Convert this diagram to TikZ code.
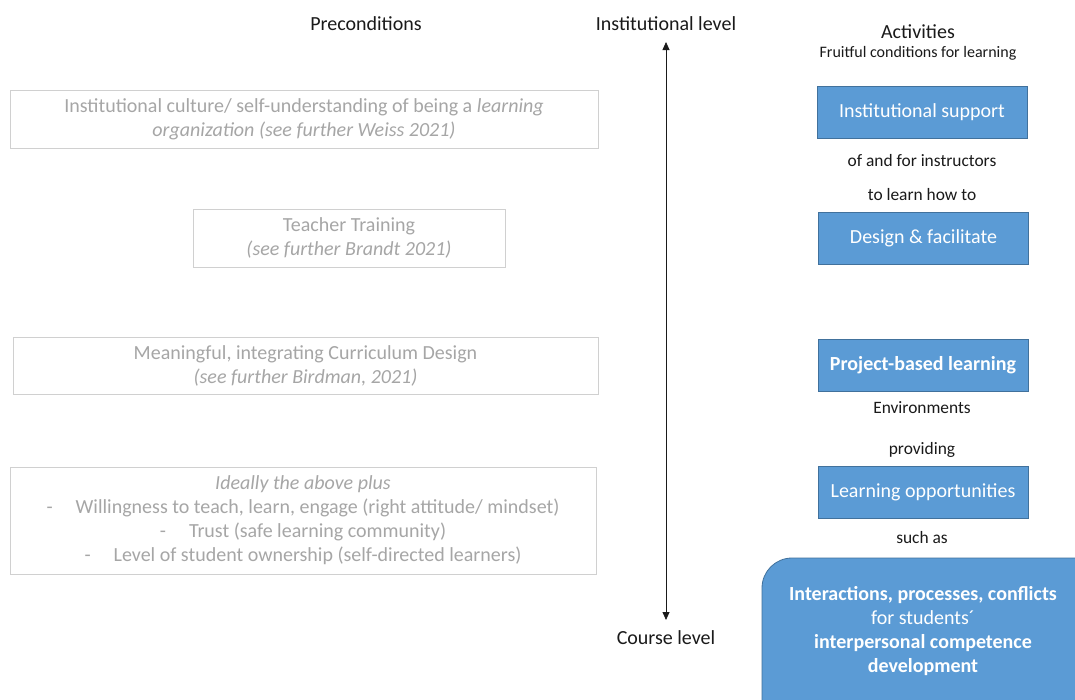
\documentclass[tikz,border=0pt]{standalone}
\usepackage{fontspec}
\setmainfont{Carlito}
\usetikzlibrary{arrows.meta}
\definecolor{precgray}{HTML}{A6A6A6}
\definecolor{precline}{HTML}{D0D0D0}
\definecolor{actblue}{HTML}{5B9BD5}
\definecolor{actline}{HTML}{41719C}
\definecolor{ink}{HTML}{1A1A1A}
\tikzset{
  precbox/.style={draw=precline, line width=1pt, text=precgray, align=center,
    inner sep=0pt, font=\fontsize{20}{24}\selectfont},
  actbox/.style={draw=actline, fill=actblue, line width=0.8pt, text=white, align=center,
    inner sep=0pt, minimum width=210pt, minimum height=52pt, font=\fontsize{20}{24}\selectfont},
  head/.style={text=ink, font=\fontsize{20}{22}\selectfont, inner sep=0pt},
  link/.style={text=ink, font=\fontsize{17.4}{20}\selectfont, inner sep=0pt},
}
\begin{document}
\begin{tikzpicture}[x=1pt, y=-1pt]
\useasboundingbox[fill=white] (0,0) rectangle (1075,699);

% column headings
\node[head] (prec) at (366,24) {Preconditions};
\node[head] (inst) at (666,24) {Institutional level};
\node[head] (course) at (666,638) {Course level};
\node[head] (act) at (918,32) {Activities};
\node[link, font=\fontsize{16}{18}\selectfont] (fruit) at (918,53) {Fruitful conditions for learning};

% level axis
\coordinate (axtop) at (666,42);
\coordinate (axbot) at (666,620);
\draw[line width=0.8pt, draw=ink, {Triangle[width=7pt,length=8pt]}-{Triangle[width=7pt,length=8pt]}] (axtop) -- (axbot);

% preconditions
\node[precbox, minimum width=588pt, minimum height=58pt] (p1) at (304,119)
  {Institutional culture/ self-understanding of being a \textit{learning}\\
   \textit{organization (see further Weiss 2021)}};
\node[precbox, minimum width=312pt, minimum height=58pt] (p2) at (349,238)
  {Teacher Training\\ \textit{(see further Brandt 2021)}};
\node[precbox, minimum width=585pt, minimum height=57pt] (p3) at (305.5,365.5)
  {Meaningful, integrating Curriculum Design\\ \textit{(see further Birdman, 2021)}};
\node[precbox, minimum width=586pt, minimum height=107pt] (p4) at (303,520.5)
  {\textit{Ideally the above plus}\\
   -\hspace{1.15em}Willingness to teach, learn, engage (right attitude/ mindset)\\
   -\hspace{1.15em}Trust (safe learning community)\\
   -\hspace{1.15em}Level of student ownership (self-directed learners)};

% activities
\node[actbox] (a1) at (922,112) {Institutional support};
\node[link] (l1) at (922,161) {of and for instructors};
\node[link] (l2) at (922,195) {to learn how to};
\node[actbox] (a2) at (923.5,238.5) {Design \& facilitate};
\node[actbox] (a3) at (923,365.5) {\textbf{Project-based learning}};
\node[link] (l3) at (922,408) {Environments};
\node[link] (l4) at (922,450) {providing};
\node[actbox] (a4) at (923,492) {Learning opportunities};
\node[link] (l5) at (922,538) {such as};

% outcome panel running off the page edge
\draw[draw=actline, fill=actblue, line width=0.8pt, rounded corners=30pt] (762,558) rectangle (1110,730);
\node[text=white, align=center, inner sep=0pt, font=\fontsize{20}{24}\selectfont] (outc) at (923,631)
  {\textbf{Interactions, processes, conflicts}\\ for students´\\
   \textbf{interpersonal competence}\\ \textbf{development}};
\end{tikzpicture}
\end{document}
